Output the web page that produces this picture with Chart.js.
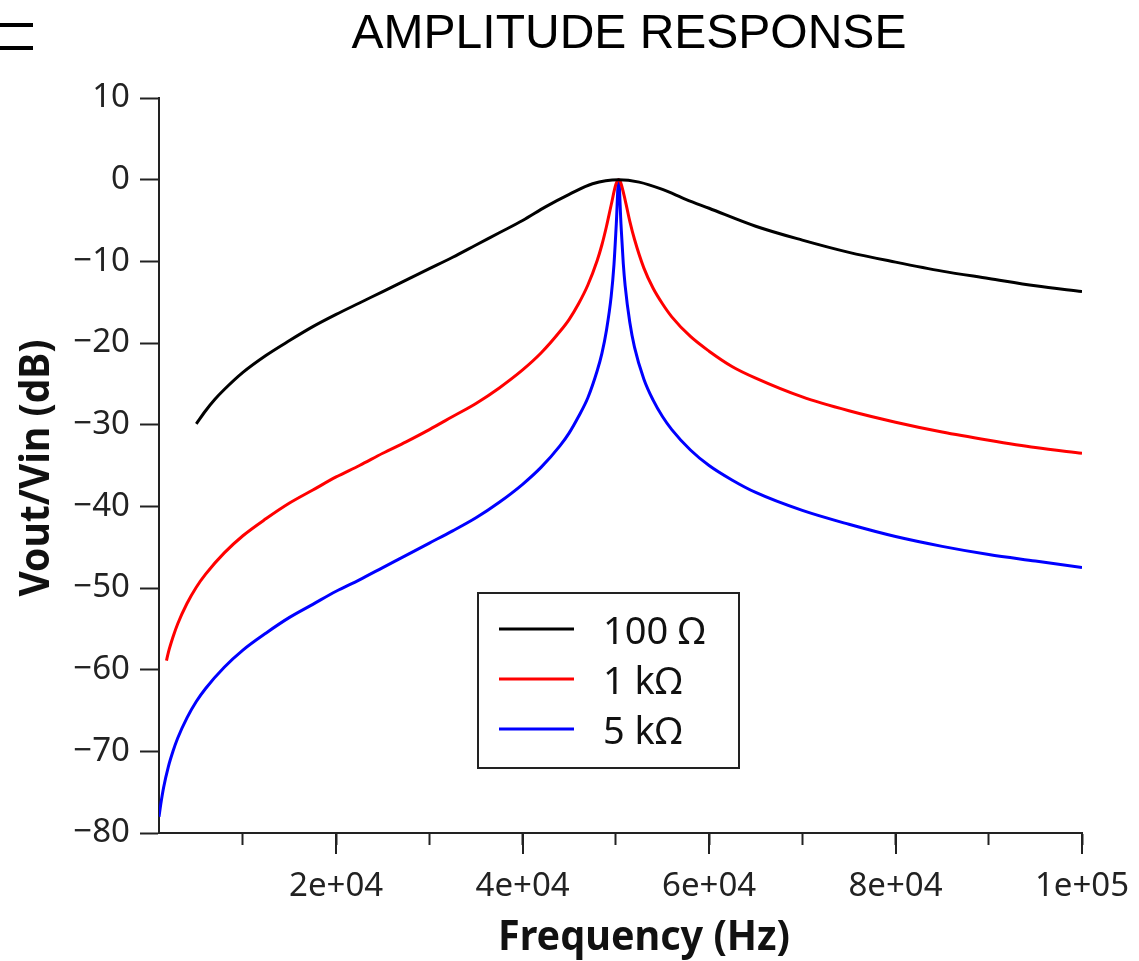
<!DOCTYPE html>
<html>
<head>
<meta charset="utf-8">
<script src="https://cdn.jsdelivr.net/npm/chart.js@4"></script>
<style>
  html, body { margin: 0; padding: 0; background: #fff; }
  #wrap { width: 1139px; height: 961px; }
</style>
</head>
<body>
<div id="wrap"><canvas id="ampChart" width="1139" height="961"></canvas></div>
<script>
// values (frequency in Hz, gain in dB)
const freq100 = [5000, 6000, 7000, 8000, 10000, 12500, 15000, 17500, 20000, 22500, 25000, 27500, 30000, 32500, 35000, 37500, 40000, 42500, 45000, 47500, 50300, 52500, 55000, 57500, 60000, 65000, 70000, 75000, 80000, 85000, 90000, 95000, 100000];
const db100 = [-29.9, -28.3, -26.9, -25.7, -23.6, -21.5, -19.7, -18.0, -16.5, -15.1, -13.7, -12.3, -10.9, -9.5, -8.0, -6.5, -5.0, -3.3, -1.8, -0.5, 0, -0.3, -1.2, -2.4, -3.5, -5.7, -7.4, -8.9, -10.1, -11.2, -12.1, -13.0, -13.7];

const freq1k = [1800, 2000, 2500, 3000, 4000, 5000, 6000, 8000, 10000, 12500, 15000, 17500, 20000, 22500, 25000, 27500, 30000, 32500, 35000, 37500, 40000, 42000, 44000, 45000, 46000, 47000, 48000, 48500, 49000, 49500, 50000, 50300, 50500, 51000, 51500, 52000, 53000, 54000, 55000, 56000, 58000, 60000, 62500, 65000, 70000, 75000, 80000, 85000, 90000, 95000, 100000];
const db1k = [-58.9, -57.9, -56.0, -54.4, -51.9, -49.9, -48.3, -45.7, -43.6, -41.5, -39.6, -38.0, -36.4, -35.0, -33.5, -32.1, -30.6, -29.0, -27.4, -25.5, -23.3, -21.2, -18.6, -17.1, -15.2, -12.9, -9.9, -8.0, -5.7, -3.1, -0.6, 0, -0.3, -2.5, -5.1, -7.3, -10.8, -13.3, -15.2, -16.8, -19.2, -21.0, -22.9, -24.3, -26.6, -28.3, -29.7, -30.9, -31.9, -32.8, -33.5];

const freq5k = [1000, 1200, 1500, 2000, 2500, 3000, 4000, 5000, 6000, 8000, 10000, 12500, 15000, 17500, 20000, 22500, 25000, 27500, 30000, 32500, 35000, 37500, 40000, 42000, 44000, 45000, 46000, 47000, 48000, 48500, 49000, 49500, 49800, 50050, 50300, 50550, 50800, 51000, 51500, 52000, 53000, 54000, 55000, 56000, 58000, 60000, 62500, 65000, 70000, 75000, 80000, 85000, 90000, 95000, 100000];
const db5k = [-78.0, -76.4, -74.4, -71.9, -70.0, -68.4, -65.9, -63.9, -62.3, -59.7, -57.6, -55.5, -53.6, -52.0, -50.4, -49.0, -47.5, -46.0, -44.5, -43.0, -41.4, -39.5, -37.3, -35.2, -32.6, -31.0, -29.0, -26.7, -23.4, -21.3, -18.4, -14.3, -10.4, -5.4, 0, -5.4, -10.3, -13.0, -17.5, -20.5, -24.4, -27.0, -29.0, -30.6, -33.1, -35.0, -36.8, -38.3, -40.5, -42.2, -43.7, -44.9, -45.9, -46.7, -47.5];

const seriesNames = ['100 \u03A9', '1 k\u03A9', '5 k\u03A9'];
const seriesColors = ['#000000', '#ff0000', '#0000ff'];

const xTickValues = [10000, 20000, 30000, 40000, 50000, 60000, 70000, 80000, 90000, 100000];
const xLabelValues = [20000, 40000, 60000, 80000, 100000];
const yTickValues = [-80, -70, -60, -50, -40, -30, -20, -10, 0, 10];

const chartTitle = 'AMPLITUDE RESPONSE';
const xTitle = 'Frequency (Hz)';
const yTitle = 'Vout/Vin (dB)';

const axisColor = '#222';
const tickFont = { family: 'Noto Sans', size: 33 };

function toPoints(xs, ys) {
  return xs.map((x, i) => ({ x: x, y: ys[i] }));
}

function sciLabel(v) {
  const parts = v.toExponential(0).split('e');
  const sign = parts[1][0];
  const exp = parts[1].slice(1).padStart(2, '0');
  return parts[0] + 'e' + sign + exp;
}

// title, axis titles, menu icon, longer major ticks, boxed legend
const decorations = {
  id: 'decorations',
  afterDraw(chart) {
    const ctx = chart.ctx;
    const xs = chart.scales.x;
    ctx.save();

    // menu icon bars, cut off at the left edge
    ctx.fillStyle = '#000';
    ctx.fillRect(0, 23, 33, 4);
    ctx.fillRect(0, 46, 33, 4);

    // title
    ctx.fillStyle = '#000';
    ctx.font = '48px "Liberation Sans", Arial, sans-serif';
    ctx.textAlign = 'center';
    ctx.textBaseline = 'alphabetic';
    ctx.fillText(chartTitle, 629, 48);

    // axis titles (condensed bold)
    ctx.fillStyle = '#111';
    ctx.font = 'bold 42px "Noto Sans", sans-serif';
    ctx.textBaseline = 'middle';
    ctx.fillText(xTitle, 644, 938, 292);
    ctx.save();
    ctx.translate(37, 468);
    ctx.rotate(-Math.PI / 2);
    ctx.fillText(yTitle, 0, 0, 257);
    ctx.restore();

    // major ticks on the x axis are longer
    ctx.strokeStyle = axisColor;
    ctx.lineWidth = 2;
    xLabelValues.forEach(v => {
      const px = Math.round(xs.getPixelForValue(v));
      ctx.beginPath();
      ctx.moveTo(px, xs.top);
      ctx.lineTo(px, xs.top + 21);
      ctx.stroke();
    });

    // legend box
    const box = { left: 478, top: 593, width: 261, height: 175 };
    ctx.fillStyle = '#fff';
    ctx.fillRect(box.left, box.top, box.width, box.height);
    ctx.strokeStyle = '#222';
    ctx.lineWidth = 2;
    ctx.strokeRect(box.left, box.top, box.width, box.height);
    ctx.font = '38px "Noto Sans", sans-serif';
    ctx.textAlign = 'left';
    ctx.textBaseline = 'alphabetic';
    seriesNames.forEach((name, i) => {
      const y = 629 + i * 50;
      ctx.strokeStyle = seriesColors[i];
      ctx.lineWidth = 3;
      ctx.beginPath();
      ctx.moveTo(499, y);
      ctx.lineTo(574, y);
      ctx.stroke();
      ctx.fillStyle = '#111';
      ctx.fillText(name, 603, y + 15);
    });

    ctx.restore();
  }
};

const ctx = document.getElementById('ampChart').getContext('2d');
new Chart(ctx, {
  type: 'line',
  data: {
    datasets: [
      { label: seriesNames[0], data: toPoints(freq100, db100) },
      { label: seriesNames[1], data: toPoints(freq1k, db1k) },
      { label: seriesNames[2], data: toPoints(freq5k, db5k) }
    ].map((d, i) => Object.assign(d, {
      borderColor: seriesColors[i],
      backgroundColor: seriesColors[i],
      borderWidth: 3,
      pointRadius: 0,
      fill: false,
      cubicInterpolationMode: 'monotone'
    }))
  },
  options: {
    responsive: false,
    animation: false,
    devicePixelRatio: 1,
    layout: { padding: { top: 98, right: 57, left: 0, bottom: 0 } },
    plugins: {
      legend: { display: false },
      title: { display: false },
      tooltip: { enabled: false }
    },
    scales: {
      x: {
        type: 'linear',
        min: 1000,
        max: 100000,
        afterBuildTicks: scale => { scale.ticks = xTickValues.map(v => ({ value: v })); },
        afterFit: scale => {
          scale.height = 128;
          scale.paddingLeft = 0;
          scale.paddingRight = 0;
        },
        ticks: {
          autoSkip: false,
          maxRotation: 0,
          padding: 22,
          color: '#222',
          font: tickFont,
          callback: v => xLabelValues.includes(v) ? sciLabel(v) : ''
        },
        grid: { drawOnChartArea: false, drawTicks: true, tickLength: 12, tickColor: axisColor, tickWidth: 2 },
        border: { display: true, color: axisColor, width: 2 }
      },
      y: {
        min: -80,
        max: 10,
        afterBuildTicks: scale => { scale.ticks = yTickValues.map(v => ({ value: v })); },
        afterFit: scale => {
          scale.width = 159;
          scale.paddingTop = 0;
          scale.paddingBottom = 0;
        },
        ticks: {
          padding: 10,
          color: '#222',
          font: tickFont,
          callback: v => (v < 0 ? '\u2212' + Math.abs(v) : String(v))
        },
        grid: { drawOnChartArea: false, drawTicks: true, tickLength: 19, tickColor: axisColor, tickWidth: 2 },
        border: { display: true, color: axisColor, width: 2 }
      }
    }
  },
  plugins: [decorations]
});
</script>
</body>
</html>
